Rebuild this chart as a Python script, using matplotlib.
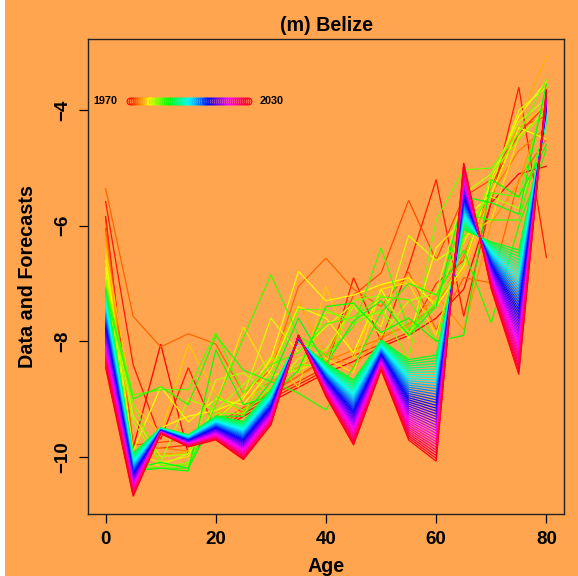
import numpy as np
import matplotlib
matplotlib.use("Agg")
import matplotlib.pyplot as plt
from matplotlib.colors import hsv_to_rgb
from matplotlib.patches import Rectangle

plt.rcParams["font.family"] = ["Liberation Sans", "DejaVu Sans"]
plt.rcParams["font.weight"] = "bold"

BG = "#FFA54F"

# Age groups (start of each 5-year band)
ages = [0, 5, 10, 15, 20, 25, 30, 35, 40, 45, 50, 55, 60, 65, 70, 75, 80]

# Observed log death rates, one list per calendar year
rate_1970 = [-5.84, -9.85, -8.05, -9.95, -9.60, -9.30, -9.05, -8.80, -8.55, -8.35, -8.10, -7.90, -7.60, -7.10, -5.60, -5.10, -4.97]
rate_1971 = [-5.58, -8.41, -9.70, -8.46, -9.55, -9.25, -9.00, -8.75, -8.50, -6.90, -8.00, -6.71, -5.20, -7.57, -5.58, -3.60, -6.55]
rate_1972 = [-5.90, -9.90, -9.85, -9.80, -9.50, -9.20, -8.95, -8.70, -8.45, -8.25, -8.05, -7.85, -7.00, -6.60, -5.30, -4.40, -3.90]
rate_1973 = [-6.05, -9.80, -9.75, -9.70, -9.45, -9.15, -8.90, -8.60, -8.30, -7.20, -6.82, -5.56, -6.60, -5.50, -5.20, -4.30, -4.10]
rate_1974 = [-5.36, -7.57, -8.10, -7.87, -8.05, -8.90, -8.50, -7.05, -6.56, -7.10, -7.40, -6.80, -7.80, -6.90, -6.99, -5.20, -4.50]
rate_1975 = [-6.10, -9.90, -9.85, -9.90, -9.50, -9.20, -8.85, -8.60, -8.35, -8.15, -7.95, -7.70, -7.40, -6.50, -5.45, -4.70, -4.30]
rate_1976 = [-6.24, -9.95, -9.95, -9.95, -9.30, -9.00, -8.70, -8.45, -8.20, -8.45, -7.90, -7.75, -7.20, -7.80, -5.95, -5.25, -3.80]
rate_1977 = [-6.30, -10.00, -10.00, -9.90, -9.25, -8.90, -8.40, -7.30, -8.30, -7.30, -7.05, -6.90, -7.20, -6.30, -5.50, -4.20, -3.07]
rate_1978 = [-6.40, -9.10, -9.60, -8.05, -8.90, -9.30, -8.30, -8.80, -7.05, -8.30, -7.10, -6.95, -7.35, -6.80, -5.45, -4.30, -3.90]
rate_1979 = [-6.50, -9.95, -10.10, -10.00, -9.10, -7.75, -8.60, -8.50, -8.30, -8.55, -7.10, -6.99, -7.90, -6.20, -5.90, -4.45, -4.00]
rate_1980 = [-6.73, -10.05, -9.50, -9.30, -9.20, -9.00, -8.30, -6.79, -7.30, -7.20, -7.02, -6.90, -7.40, -6.70, -5.20, -4.10, -3.50]
rate_1981 = [-6.60, -9.90, -8.79, -9.40, -9.00, -9.10, -8.50, -7.40, -7.60, -8.20, -7.10, -7.95, -6.38, -5.90, -5.45, -4.30, -4.50]
rate_1982 = [-6.80, -10.10, -10.15, -9.95, -9.35, -8.95, -7.60, -8.20, -7.75, -7.35, -7.75, -6.17, -6.60, -6.30, -5.30, -4.00, -3.60]
rate_1983 = [-6.90, -9.30, -10.00, -9.95, -8.67, -8.55, -8.90, -8.30, -8.15, -7.40, -7.90, -7.30, -7.17, -5.45, -5.10, -4.20, -3.80]
rate_1984 = [-7.00, -9.40, -10.10, -9.00, -9.20, -8.75, -8.27, -8.55, -7.50, -7.60, -7.50, -7.90, -7.40, -6.00, -5.50, -5.70, -4.30]
rate_1985 = [-6.95, -10.15, -10.20, -10.10, -9.25, -9.25, -8.80, -8.40, -8.45, -7.30, -7.20, -7.85, -7.30, -6.64, -5.10, -4.50, -4.00]
rate_1986 = [-7.05, -9.07, -10.15, -10.15, -8.96, -9.20, -8.60, -7.45, -7.45, -7.70, -7.45, -8.32, -5.90, -5.03, -5.00, -4.40, -3.47]
rate_1987 = [-7.07, -8.93, -8.84, -8.84, -7.85, -8.90, -8.40, -8.20, -7.70, -7.58, -7.23, -7.28, -8.00, -6.19, -5.43, -5.50, -3.64]
rate_1988 = [-7.10, -10.20, -10.20, -10.20, -9.10, -7.94, -6.85, -7.90, -8.25, -7.75, -6.38, -7.80, -7.35, -5.80, -5.90, -5.90, -4.20]
rate_1989 = [-7.15, -9.00, -8.79, -9.10, -7.90, -8.50, -8.70, -8.90, -9.19, -8.45, -7.50, -7.00, -7.20, -6.42, -7.68, -6.00, -4.68]
rate_1990 = [-7.20, -10.25, -10.20, -10.25, -8.15, -9.10, -8.95, -8.50, -7.40, -7.34, -7.85, -7.60, -8.00, -7.90, -5.20, -5.50, -4.60]
rate_1991 = [-7.10, -10.20, -10.10, -10.20, -9.30, -9.30, -8.70, -7.60, -8.40, -7.65, -7.30, -7.90, -7.40, -5.50, -5.60, -5.80, -3.55]

observed = [rate_1970, rate_1971, rate_1972, rate_1973, rate_1974, rate_1975,
            rate_1976, rate_1977, rate_1978, rate_1979, rate_1980, rate_1981,
            rate_1982, rate_1983, rate_1984, rate_1985, rate_1986, rate_1987,
            rate_1988, rate_1989, rate_1990, rate_1991]
obs_years = list(range(1970, 1992))

# Lee-Carter style forecast: log m(x,t) = a_x + b_x * k_t
fc_ax = [-7.11, -9.94, -9.50, -9.62, -9.30, -9.39, -8.84, -8.00, -8.38, -8.67, -7.98, -8.32, -8.24, -6.07, -6.28, -6.42, -4.20]
fc_bx = [0.355, 0.197, 0.026, 0.055, 0.108, 0.174, 0.161, -0.029, 0.153, 0.297, 0.137, 0.366, 0.484, -0.305, 0.216, 0.568, -0.147]
fc_kt = [0.0, -0.1, -0.2, -0.3, -0.4, -0.5, -0.6, -0.7, -0.8, -0.9,
         -1.0, -1.1, -1.2, -1.3, -1.4, -1.5, -1.6, -1.7, -1.8, -1.9,
         -2.0, -2.1, -2.2, -2.3, -2.4, -2.5, -2.6, -2.7, -2.8, -2.9,
         -3.0, -3.1, -3.2, -3.3, -3.4, -3.5, -3.6, -3.7, -3.8]
fc_years = list(range(1992, 2031))

ax_arr = np.array(fc_ax)
bx_arr = np.array(fc_bx)
forecast = [ax_arr + bx_arr * k for k in fc_kt]

all_years = obs_years + fc_years
all_curves = [np.array(c) for c in observed] + forecast
n = len(all_years)
colors = [hsv_to_rgb((i / n, 1.0, 1.0)) for i in range(n)]

W, H = 578, 576
fig = plt.figure(figsize=(W / 100, H / 100), dpi=100, facecolor=BG)
fig.patches.append(Rectangle((0, 0), 5 / W, 1, transform=fig.transFigure,
                             facecolor="white", edgecolor="none", zorder=-1))

left, right, top, bottom = 88 / W, 564 / W, 39 / H, 514 / H
ax = fig.add_axes([left, 1 - bottom, right - left, bottom - top])
ax.set_facecolor(BG)

for curve, col in zip(all_curves, colors):
    ax.plot(ages, curve, color=col, lw=0.9, solid_joinstyle="miter")

# R-style axis ranges (4% padding)
xr = max(ages) - min(ages)
ax.set_xlim(min(ages) - 0.04 * xr, max(ages) + 0.04 * xr)
ymin = min(c.min() for c in all_curves)
ymax = max(c.max() for c in all_curves)
yr = ymax - ymin
ax.set_ylim(ymin - 0.04 * yr, ymax + 0.04 * yr)

ax.set_xticks([0, 20, 40, 60, 80])
ax.set_yticks([-10, -8, -6, -4])
ax.tick_params(direction="out", length=6.3, width=0.9, labelsize=13.5, pad=6.0,
               colors="black")
ax.tick_params(axis="y", labelrotation=90)
for lab in ax.get_yticklabels():
    lab.set_va("center")
    lab.set_fontweight("bold")
for lab in ax.get_xticklabels():
    lab.set_fontweight("bold")
for sp in ax.spines.values():
    sp.set_linewidth(1.0)
    sp.set_color("#222222")

# Colour key for the years
key_x = np.linspace(0.088, 0.3355, n)
for xk, col in zip(key_x, colors):
    ax.plot([xk], [0.870], marker="o", ms=4.9, mfc="none", mec=col, mew=0.8,
            transform=ax.transAxes, clip_on=False)
ax.text(0.0357, 0.870, str(all_years[0]), transform=ax.transAxes, ha="center",
        va="center", fontsize=7.8, fontweight="bold")
ax.text(0.386, 0.870, str(all_years[-1]), transform=ax.transAxes, ha="center",
        va="center", fontsize=7.8, fontweight="bold")

fig.text(0.5 * (left + right), 1 - 31 / H, "(m) Belize", ha="center",
         va="baseline", fontsize=14.2, fontweight="bold")
fig.text(0.5 * (left + right), 1 - 571.5 / H, "Age", ha="center",
         va="baseline", fontsize=14.2, fontweight="bold")
fig.text(27.5 / W, 1 - 0.5 * (top + bottom), "Data and Forecasts", ha="center",
         va="center", rotation=90, fontsize=14.2, fontweight="bold")

fig.savefig("out.png", dpi=100, facecolor=BG)
